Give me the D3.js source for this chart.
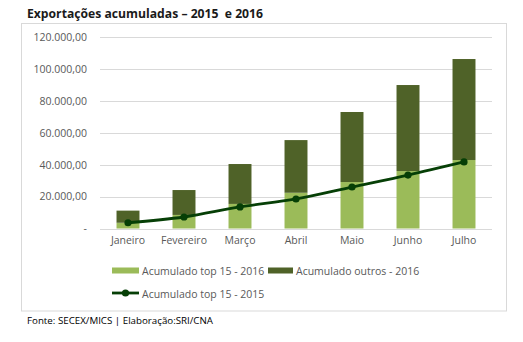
<!DOCTYPE html>
<html><head><meta charset="utf-8">
<script src="https://cdn.jsdelivr.net/npm/d3@7"></script>
<style>body{margin:0;background:#fff;}svg{display:block;font-family:"Open Sans",Calibri,sans-serif;}</style>
</head><body><svg id="c" width="523" height="342"></svg>
<script>
const months = ["Janeiro","Fevereiro","Março","Abril","Maio","Junho","Julho"];
const top15_2016 = [3600, 8500, 15400, 22400, 29100, 36000, 42900];
const outros_2016 = [7600, 15600, 25000, 33000, 43900, 53900, 63300];
const top15_2015 = [3600, 7200, 13500, 18500, 26000, 33500, 41700];
const yTicks = [0, 20000, 40000, 60000, 80000, 100000, 120000];
const seriesNames = ["Acumulado top 15 - 2016", "Acumulado outros - 2016", "Acumulado top 15 - 2015"];
const colors = ["#9bbb59", "#4f6228", "#063f06"];

const svg = d3.select("#c");
const fmt = v => v === 0 ? "-" : d3.formatLocale({decimal:",", thousands:".", grouping:[3], currency:["",""]}).format(",.2f")(v);

// frame
svg.append("rect").attr("x",21.5).attr("y",23.5).attr("width",485).attr("height",287.5)
  .attr("fill","none").attr("stroke","#d9d9d9");

svg.append("text").attr("x",27).attr("y",18).attr("font-size",13.2).attr("font-weight","bold")
  .attr("font-family","'Open Sans',sans-serif").attr("fill","#1a1a1a")
  .style("white-space","pre")
  .attr("textLength",236).attr("lengthAdjust","spacingAndGlyphs")
  .text("Exportações acumuladas – 2015  e 2016");

const x = d3.scaleBand().domain(months).range([100, 492]).paddingInner(0.59).paddingOuter(0.295);
const y = d3.scaleLinear().domain([0, 120000]).range([228.5, 37]);

// grid
svg.append("g").selectAll("line").data(yTicks).join("line")
  .attr("x1",100).attr("x2",492).attr("y1",d=>Math.round(y(d))+0.5).attr("y2",d=>Math.round(y(d))+0.5)
  .attr("stroke","#d9d9d9").attr("stroke-width",1);

// y axis labels
const yAxis = d3.axisLeft(y).tickValues(yTicks).tickFormat(fmt).tickSize(0).tickPadding(13);
const ga = svg.append("g").attr("transform","translate(100,0)").call(yAxis);
ga.select(".domain").remove();
ga.selectAll("text").attr("font-size",10.5).attr("fill","#595959").attr("font-family","'Open Sans',sans-serif");

// x axis labels
const xAxis = d3.axisBottom(x).tickSize(0).tickPadding(8);
const gx = svg.append("g").attr("transform","translate(0,229)").call(xAxis);
gx.select(".domain").remove();
gx.selectAll("text").attr("font-size",10.5).attr("fill","#595959").attr("font-family","'Open Sans',sans-serif");

// stacked bars
const stackData = months.map((m,i)=>({m, a: top15_2016[i], b: outros_2016[i]}));
const stacked = d3.stack().keys(["a","b"])(stackData);
svg.append("g").selectAll("g").data(stacked).join("g").attr("fill",(d,i)=>colors[i])
  .selectAll("rect").data(d=>d).join("rect")
  .attr("x",d=>x(d.data.m)).attr("width",x.bandwidth())
  .attr("y",d=>y(d[1])).attr("height",d=>y(d[0])-y(d[1]));

// line
const cx = m => x(m) + x.bandwidth()/2;
const line = d3.line().x((d,i)=>cx(months[i])).y(d=>y(d)).curve(d3.curveMonotoneX);
svg.append("path").datum(top15_2015).attr("d",line).attr("fill","none")
  .attr("stroke",colors[2]).attr("stroke-width",2.8);
svg.append("g").selectAll("circle").data(top15_2015).join("circle")
  .attr("cx",(d,i)=>cx(months[i])).attr("cy",d=>y(d)).attr("r",3.6).attr("fill",colors[2]);

// legend
const lg = svg.append("g").attr("font-size",10.5).attr("fill","#595959").attr("font-family","'Open Sans',sans-serif");
lg.append("rect").attr("x",112).attr("y",267.5).attr("width",27).attr("height",6).attr("fill",colors[0]);
lg.append("text").attr("x",142).attr("y",274.5).attr("fill","#595959").text(seriesNames[0]);
lg.append("rect").attr("x",268).attr("y",267.5).attr("width",25).attr("height",6).attr("fill",colors[1]);
lg.append("text").attr("x",296).attr("y",274.5).attr("fill","#595959").text(seriesNames[1]);
lg.append("line").attr("x1",112).attr("x2",139).attr("y1",293).attr("y2",293).attr("stroke",colors[2]).attr("stroke-width",2.8);
lg.append("circle").attr("cx",125.5).attr("cy",293).attr("r",3.6).attr("fill",colors[2]);
lg.append("text").attr("x",142).attr("y",297.5).attr("fill","#595959").text(seriesNames[2]);

// footer
svg.append("text").attr("x",27).attr("y",324).attr("font-size",9.5).attr("fill","#000")
  .attr("font-family","'Open Sans',sans-serif").attr("textLength",186).attr("lengthAdjust","spacingAndGlyphs")
  .text("Fonte: SECEX/MICS | Elaboração:SRI/CNA");
</script></body></html>
